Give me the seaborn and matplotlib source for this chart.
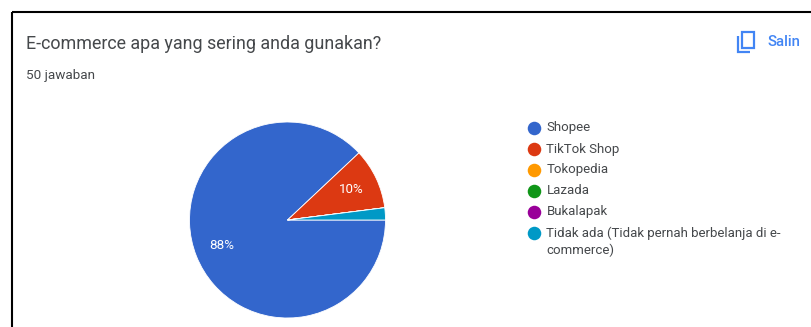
import matplotlib
matplotlib.use("Agg")
import matplotlib.pyplot as plt
from matplotlib.patches import Rectangle
import seaborn as sns

categories = ["Shopee", "TikTok Shop", "Tokopedia", "Lazada", "Bukalapak",
              "Tidak ada (Tidak pernah berbelanja di e-\ncommerce)"]
responses = [44, 5, 0, 0, 0, 1]
colors = ["#3366CC", "#DC3912", "#FF9900", "#109618", "#990099", "#0099C6"]
title = "E-commerce apa yang sering anda gunakan?"
subtitle = "50 jawaban"
copy_label = "Salin"

sns.set_theme(style="white")
plt.rcParams["font.family"] = ["Roboto", "DejaVu Sans"]
palette = sns.color_palette(colors)

W, H = 811, 327
fig = plt.figure(figsize=(W / 100, H / 100), dpi=100, facecolor="white")
ax = fig.add_axes([0, 0, 1, 1])
ax.set_xlim(0, W)
ax.set_ylim(0, H)
ax.axis("off")


def top(y):
    """Convert a distance from the top edge to the axes' y coordinate."""
    return H - y


# Card outline: only the top and left edges fall inside the canvas
ax.plot([11.5, W], [top(12), top(12)], color="black", lw=1.5, solid_capstyle="butt")
ax.plot([11.5, 11.5], [top(12), 0], color="black", lw=1.5, solid_capstyle="butt")

# Heading block
ax.text(26, top(44), title, fontsize=12.9, color="#45484b", va="center", ha="left")
ax.text(26, top(75), subtitle, fontsize=9.7, color="#45484b", va="center", ha="left")


def pct_label(pct):
    return f"{pct:.0f}%" if pct >= 5 else ""


# Pie, running clockwise from three o'clock
wedges, _, autotexts = ax.pie(
    responses, colors=palette, startangle=0, counterclock=False,
    center=(287.5, top(220)), radius=98, frame=True,
    autopct=pct_label, pctdistance=0.72,
    wedgeprops={"edgecolor": "white", "linewidth": 0.6},
    textprops={"color": "white", "fontsize": 9.6},
)
ax.set_xlim(0, W)
ax.set_ylim(0, H)
ax.set_aspect("equal")
ax.axis("off")

# Legend column
row_y = 127.5
for name, color in zip(categories, palette):
    ax.scatter([534], [top(row_y)], s=95, color=color, linewidths=0)
    first, *rest = name.split("\n")
    ax.text(546.5, top(row_y + 0.5), first, fontsize=9.5, color="#45484b", va="center", ha="left")
    for i, line in enumerate(rest, start=1):
        ax.text(546.5, top(row_y + 0.5 + 17.5 * i), line, fontsize=9.5, color="#45484b",
                va="center", ha="left")
    row_y += 21

# Copy button: back sheet bracket, front sheet and label
blue = "#4285F4"
ax.plot([737.5, 737.5, 750], [top(36), top(51.5), top(51.5)], color=blue, lw=1.6,
        solid_capstyle="butt", solid_joinstyle="miter")
ax.add_patch(Rectangle((741.5, top(47.5)), 12, 15.5, fill=False, edgecolor=blue, lw=1.6))
ax.text(768, top(42), copy_label, fontsize=10.8, fontweight="medium", color=blue,
        va="center", ha="left")

fig.savefig("out.png", dpi=100, facecolor="white")
